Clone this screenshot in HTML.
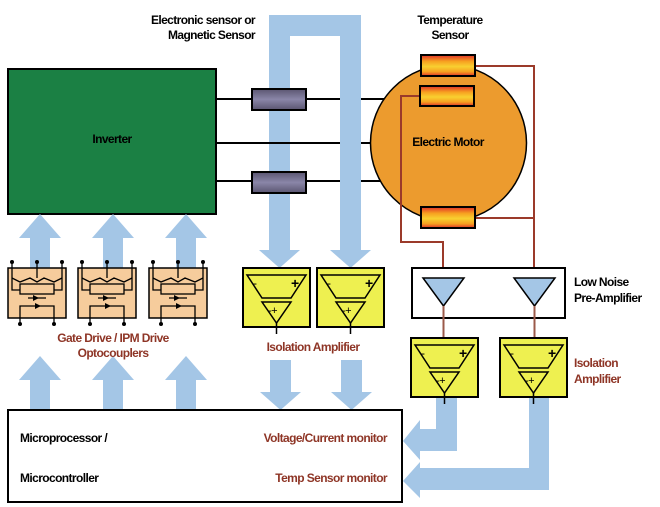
<!DOCTYPE html>
<html><head><meta charset="utf-8"><style>
html,body{margin:0;padding:0;background:#fff;}
svg{display:block;}
text{font-family:"Liberation Sans",sans-serif;font-weight:bold;font-size:12px;letter-spacing:-0.6px;}
.r{fill:#8e3526;}
</style></head><body>
<svg width="660" height="507" viewBox="0 0 660 507" xmlns="http://www.w3.org/2000/svg">
<defs>
<linearGradient id="ts" x1="0" y1="0" x2="0" y2="1">
<stop offset="0" stop-color="#e0302a"/><stop offset="0.3" stop-color="#f7a020"/><stop offset="0.55" stop-color="#f8d030"/><stop offset="0.8" stop-color="#f7a020"/><stop offset="1" stop-color="#e0302a"/></linearGradient>
<linearGradient id="ss" x1="0" y1="0" x2="0" y2="1">
<stop offset="0" stop-color="#5a5570"/><stop offset="0.5" stop-color="#8a86a8"/><stop offset="1" stop-color="#5a5570"/></linearGradient>
<g id="upar"><polygon points="-10,0 -10,-30 -21,-30 0,-54 21,-30 10,-30 10,0" fill="#a4c6e6"/></g>
<g id="gd">
<rect x="0" y="0" width="58" height="50" fill="#f6cc9c" stroke="#000" stroke-width="1.5"/>
<g stroke="#000" stroke-width="1.3" fill="none">
<line x1="4" y1="-6" x2="4" y2="10"/><line x1="29" y1="-6" x2="29" y2="10"/><line x1="54" y1="-6" x2="54" y2="10"/>
<path d="M4 10 L12 14 L22 10 L29 14 L36 10 L46 14 L54 10"/>
<path d="M4 10 V22 H12 M54 10 V22 H46"/>
<rect x="12" y="16" width="34" height="10"/>
<line x1="20" y1="30" x2="38" y2="30"/>
<path d="M12 48 V38 H46 V48"/>
</g>
<circle cx="4" cy="-6" r="2" fill="#000"/><circle cx="29" cy="-6" r="2" fill="#000"/><circle cx="54" cy="-6" r="2" fill="#000"/>
<circle cx="12" cy="56" r="2" fill="#000"/><circle cx="46" cy="56" r="2" fill="#000"/>
<line x1="12" y1="48" x2="12" y2="56" stroke="#000" stroke-width="1.3"/><line x1="46" y1="48" x2="46" y2="56" stroke="#000" stroke-width="1.3"/>
<polygon points="25,27 25,33 31,30" fill="#000"/><polygon points="27,35 27,41 33,38" fill="#000"/>
</g>
<g id="ia">
<rect x="0" y="0" width="67" height="59" fill="#eef050" stroke="#000" stroke-width="2"/>
<polygon points="4,7 63,7 48,30 19,30" fill="none" stroke="#000" stroke-width="1.5"/>
<polygon points="19,34 48,34 33.5,55" fill="none" stroke="#000" stroke-width="1.5"/>
<text x="10" y="19" style="font-weight:normal">-</text><text x="48" y="20" style="font-size:14px">+</text>
<text x="25" y="46" style="font-weight:normal;font-size:11px">-+</text>
<line x1="33.5" y1="55" x2="33.5" y2="66" stroke="#000" stroke-width="1.5"/>
</g>
</defs>

<!-- blue U -->
<path d="M269 255 V15 H361 V255 H340 V36 H290 V255 Z" fill="#a4c6e6"/>
<polygon points="259,250 300,250 279.5,268" fill="#a4c6e6"/>
<polygon points="330,250 371,250 350.5,268" fill="#a4c6e6"/>

<!-- inverter -->
<rect x="8" y="69" width="208" height="145" fill="#1b8044" stroke="#000" stroke-width="2"/>
<text x="112" y="143" text-anchor="middle">Inverter</text>

<!-- lines -->
<g stroke="#000" stroke-width="2">
<line x1="216" y1="99" x2="340" y2="99"/><line x1="361" y1="99" x2="385" y2="99"/>
<line x1="216" y1="143" x2="340" y2="143"/><line x1="361" y1="143" x2="372" y2="143"/>
<line x1="216" y1="181" x2="340" y2="181"/><line x1="361" y1="181" x2="385" y2="181"/>
</g>
<rect x="252" y="89" width="54" height="21" fill="url(#ss)" stroke="#000" stroke-width="2"/>
<rect x="252" y="172" width="54" height="21" fill="url(#ss)" stroke="#000" stroke-width="2"/>

<text x="255" y="24" text-anchor="end">Electronic sensor or</text>
<text x="255" y="39" text-anchor="end">Magnetic Sensor</text>
<text x="450" y="24" text-anchor="middle">Temperature</text>
<text x="450" y="39" text-anchor="middle">Sensor</text>

<!-- motor -->
<circle cx="448.5" cy="143" r="78" fill="#ec9b2e" stroke="#000" stroke-width="1.5"/>
<text x="448" y="146" text-anchor="middle">Electric Motor</text>
<g stroke="#9b3a2a" stroke-width="2" fill="none">
<path d="M475 66 H534 V278"/><path d="M475 218 H534"/>
<path d="M420 96 H401 V242 H443 V278"/>
</g>
<rect x="421" y="55" width="54" height="21" fill="url(#ts)" stroke="#000" stroke-width="2"/>
<rect x="420" y="86" width="54" height="20" fill="url(#ts)" stroke="#000" stroke-width="2"/>
<rect x="421" y="207" width="54" height="21" fill="url(#ts)" stroke="#000" stroke-width="2"/>

<!-- preamp -->
<rect x="412" y="268" width="153" height="50" fill="#fff" stroke="#000" stroke-width="2"/>
<polygon points="423,278 464,278 443.5,306" fill="#a4c6e6" stroke="#000" stroke-width="1.5"/>
<polygon points="514,278 555,278 534.5,306" fill="#a4c6e6" stroke="#000" stroke-width="1.5"/>
<g stroke="#9b5a4a" stroke-width="2"><line x1="443.5" y1="306" x2="443.5" y2="338"/><line x1="534.5" y1="306" x2="534.5" y2="338"/></g>
<text x="574" y="286">Low Noise</text><text x="574" y="302">Pre-Amplifier</text>

<!-- right L arrows -->
<path d="M436 397 H457 V451 H420 V460 L403 441 L420 420 V429 H436 Z" fill="#a4c6e6"/>
<path d="M529 397 H549 V490 H420 V498 L403 481 L420 462 V468 H529 Z" fill="#a4c6e6"/>

<use href="#ia" x="411" y="338"/>
<use href="#ia" x="500" y="338"/>
<text x="574" y="367" class="r">Isolation</text><text x="574" y="383" class="r">Amplifier</text>

<!-- left iso amps -->
<use href="#ia" x="243" y="268"/>
<use href="#ia" x="317" y="268"/>
<text x="313" y="351" text-anchor="middle" class="r">Isolation Amplifier</text>
<path d="M270 360 H291 V392 H301 L280.5 410 L260 392 H270 Z" fill="#a4c6e6"/>
<path d="M341 360 H362 V392 H372 L351.5 410 L331 392 H341 Z" fill="#a4c6e6"/>

<!-- gate drive arrows -->
<use href="#upar" x="40" y="268"/><use href="#upar" x="113" y="268"/><use href="#upar" x="186" y="268"/>
<use href="#upar" x="40" y="410"/><use href="#upar" x="113" y="410"/><use href="#upar" x="186" y="410"/>
<use href="#gd" x="8" y="268"/><use href="#gd" x="78" y="268"/><use href="#gd" x="149" y="268"/>
<text x="113" y="342" text-anchor="middle" class="r">Gate Drive / IPM Drive</text>
<text x="113" y="357" text-anchor="middle" class="r">Optocouplers</text>

<!-- micro box -->
<rect x="8" y="410" width="394" height="92" fill="#fff" stroke="#000" stroke-width="2"/>
<text x="20" y="442">Microprocessor /</text>
<text x="20" y="482">Microcontroller</text>
<text x="387" y="442" text-anchor="end" class="r">Voltage/Current monitor</text>
<text x="387" y="482" text-anchor="end" class="r">Temp Sensor monitor</text>
</svg>
</body></html>
